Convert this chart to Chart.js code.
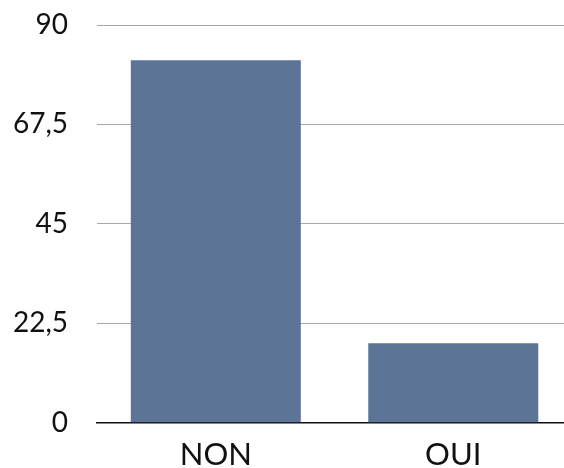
<!DOCTYPE html>
<html>
<head>
<meta charset="utf-8">
<script src="https://cdn.jsdelivr.net/npm/chart.js@4"></script>
<style>
  html, body { margin: 0; padding: 0; background: #fff; overflow: hidden; }
  /* plot runs a little past the right edge, as in the picture */
  #wrap { width: 572px; height: 468px; }
</style>
</head>
<body>
<div id="wrap"><canvas id="barChart"></canvas></div>
<script>
// data
const categories = ['NON', 'OUI'];
const answers = [82, 18];
const yTicks = [0, 22.5, 45, 67.5, 90];

const ctx = document.getElementById('barChart');

const barChart = new Chart(ctx, {
  type: 'bar',
  data: {
    labels: categories,
    datasets: [{
      data: answers,
      backgroundColor: 'rgb(92, 117, 150)',
      barPercentage: 0.716,
      categoryPercentage: 1
    }]
  },
  options: {
    responsive: true,
    maintainAspectRatio: false,
    animation: false,
    layout: { padding: { top: 25, right: 0, left: 13, bottom: -12 } },
    plugins: {
      legend: { display: false },
      tooltip: { enabled: false }
    },
    scales: {
      x: {
        grid: { display: false },
        border: { color: '#111', width: 1.5 },
        ticks: {
          color: '#111',
          padding: 6,
          font: { family: 'Lato', size: 31 }
        }
      },
      y: {
        min: 0,
        max: 90,
        afterBuildTicks: (axis) => {
          axis.ticks = yTicks.map(v => ({ value: v }));
        },
        // gap between labels and grid comes from an invisible tick mark
        grid: { color: '#a8a8a8', lineWidth: 1, tickLength: 29, tickColor: 'rgba(0,0,0,0)' },
        border: { display: false },
        ticks: {
          color: '#111',
          padding: 0,
          font: { family: 'Lato', size: 28 },
          callback: (v) => String(v).replace('.', ',')
        }
      }
    }
  }
});
</script>
</body>
</html>
